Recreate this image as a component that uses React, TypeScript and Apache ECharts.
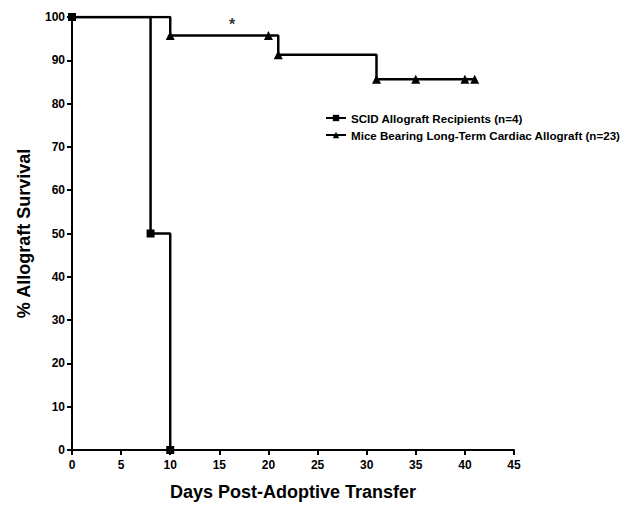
import React, { useEffect, useRef } from "react";
import * as echarts from "echarts";

const scidDays = [0, 8, 10];
const scidSurvival = [100, 50, 0];
const miceDays = [0, 10, 20, 21, 31, 35, 40, 41];
const miceSurvival = [100, 95.7, 95.7, 91.3, 85.6, 85.6, 85.6, 85.6];
const seriesNames = [
  "SCID Allograft Recipients (n=4)",
  "Mice Bearing Long-Term Cardiac Allograft (n=23)",
];
const xTicks = [0, 5, 10, 15, 20, 25, 30, 35, 40, 45];
const yTicks = [0, 10, 20, 30, 40, 50, 60, 70, 80, 90, 100];
const starPoint = [16.3, 98.2];

const FONT = "Liberation Sans, Arial, sans-serif";

export default function App() {
  const ref = useRef<HTMLDivElement>(null);
  useEffect(() => {
    if (!ref.current) return;
    const chart = echarts.init(ref.current, null, { renderer: "svg" });
    const axisCommon = {
      axisLine: { show: true, lineStyle: { color: "#000", width: 2 } },
      axisTick: { show: true, length: 5, lineStyle: { color: "#000", width: 2 } },
      splitLine: { show: false },
    };
    chart.setOption({
      animation: false,
      backgroundColor: "#fff",
      grid: { left: 72, right: 107, top: 17, bottom: 52, containLabel: false },
      xAxis: {
        type: "value",
        min: xTicks[0],
        max: xTicks[xTicks.length - 1],
        interval: 5,
        ...axisCommon,
        axisLabel: {
          color: "#000",
          fontFamily: FONT,
          fontWeight: "bold",
          fontSize: 12,
          margin: 9,
        },
        name: "Days Post-Adoptive Transfer",
        nameLocation: "middle",
        nameGap: 33,
        nameTextStyle: { color: "#000", fontFamily: FONT, fontWeight: "bold", fontSize: 18 },
      },
      yAxis: {
        type: "value",
        min: yTicks[0],
        max: yTicks[yTicks.length - 1],
        interval: 10,
        ...axisCommon,
        axisLabel: {
          color: "#000",
          fontFamily: FONT,
          fontWeight: "bold",
          fontSize: 12,
          margin: 7,
        },
        name: "% Allograft Survival",
        nameLocation: "middle",
        nameGap: 39,
        nameTextStyle: { color: "#000", fontFamily: FONT, fontWeight: "bold", fontSize: 18 },
      },
      legend: {
        orient: "vertical",
        left: 320,
        top: 107,
        itemWidth: 20,
        itemHeight: 8,
        itemGap: 5,
        textStyle: { color: "#000", fontFamily: FONT, fontWeight: "bold", fontSize: 11.6 },
        data: seriesNames,
      },
      series: [
        {
          name: seriesNames[1],
          type: "line",
          step: "end",
          data: miceDays.map((d, i) =>
            i === 0
              ? { value: [d, miceSurvival[i]], symbol: "none" }
              : [d, miceSurvival[i]]
          ),
          symbol: "triangle",
          symbolSize: 9,
          showAllSymbol: true,
          lineStyle: { color: "#000", width: 2.5 },
          itemStyle: { color: "#000" },
          z: 3,
        },
        {
          name: seriesNames[0],
          type: "line",
          step: "end",
          data: scidDays.map((d, i) => [d, scidSurvival[i]]),
          symbol: "rect",
          symbolSize: 8,
          showAllSymbol: true,
          lineStyle: { color: "#000", width: 2.5 },
          itemStyle: { color: "#000" },
          z: 4,
        },
        {
          type: "scatter",
          data: [starPoint],
          symbolSize: 0,
          silent: true,
          label: {
            show: true,
            formatter: "*",
            position: "inside",
            color: "#000",
            fontFamily: FONT,
            fontWeight: "bold",
            fontSize: 16,
          },
        },
      ],
    });
    return () => chart.dispose();
  }, []);
  return (
    <div
      ref={ref}
      style={{ position: "fixed", left: 0, top: 0, width: 621, height: 506 }}
    />
  );
}
